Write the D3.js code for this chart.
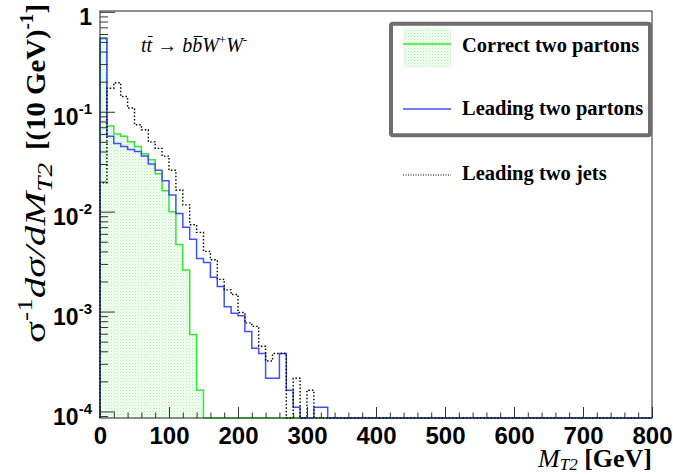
<!DOCTYPE html>
<html><head><meta charset="utf-8">
<script src="https://cdn.jsdelivr.net/npm/d3@7/dist/d3.min.js"></script>
<style>
html,body{margin:0;padding:0;background:#fff;}
svg{display:block;}
</style></head><body>
<svg id="chart" width="673" height="474"></svg>
<script>
// ---------------- data ----------------
const binWidth = 10;                 // GeV per bin
const xDomain = [0, 800];
const xMajorTicks = [0, 100, 200, 300, 400, 500, 600, 700, 800];
const xTickLabels = ["0", "100", "200", "300", "400", "500", "600", "700", "800"];
const yMajorTicks = [1, 1e-1, 1e-2, 1e-3, 1e-4];
const yTickBase = ["1", "10", "10", "10", "10"];
const yTickExp = ["", "-1", "-2", "-3", "-4"];
const seriesNames = ["Correct two partons", "Leading two partons", "Leading two jets"];

// normalised distributions, one value per 10 GeV bin starting at 0 GeV
const correctPartons = [0.55, 0.072, 0.060, 0.057, 0.050, 0.045, 0.038, 0.033, 0.024, 0.0162,
  0.0100, 0.0047, 0.0026, 0.00059, 0.000163];
const leadingPartons = [0.54, 0.057, 0.048, 0.045, 0.042, 0.040, 0.036, 0.030, 0.026, 0.0204,
  0.0147, 0.0096, 0.0070, 0.0053, 0.0034, 0.0031, 0.0022, 0.00178, 0.00112, 0.00096,
  0.00091, 0.00063, 0.00043, 0.00038, 0.000215, 0.000215, 0.00038, 0.000163, 0.00011, 0,
  0, 0.00011, 0.00011];
const leadingJets = [0.0195, 0.172, 0.195, 0.142, 0.109, 0.074, 0.066, 0.050, 0.043, 0.036,
  0.026, 0.0165, 0.0117, 0.0074, 0.0062, 0.0040, 0.0033, 0.0021, 0.00165, 0.00148,
  0.00098, 0.00077, 0.00071, 0.00045, 0.00032, 0.00038, 0.00038, 0, 0.000215, 0,
  0.000163];

// ---------------- layout ----------------
const svg = d3.select("#chart");
const plot = {left: 100, right: 652, top: 11, bottom: 418};
const yDomain = [8.6e-5, 1.02];

const x = d3.scaleLinear().domain(xDomain).range([plot.left, plot.right]);
const y = d3.scaleLog().domain(yDomain).range([plot.bottom, plot.top]).clamp(true);

const nBins = Math.round((xDomain[1] - xDomain[0]) / binWidth);
const fullBins = vals => d3.range(nBins).map(i => vals[i] ?? 0);
const yv = v => v > 0 ? y(v) : plot.bottom;
const stepPoints = vals => {
  const b = fullBins(vals);
  const pts = [[xDomain[0], 0]];
  b.forEach((v, i) => pts.push([xDomain[0] + i * binWidth, v]));
  pts.push([xDomain[1], 0]);
  return pts;
};

// pattern for the filled histogram
const defs = svg.append("defs");
const pat = defs.append("pattern").attr("id", "greenDots")
  .attr("width", 3).attr("height", 3).attr("patternUnits", "userSpaceOnUse");
pat.append("rect").attr("width", 3).attr("height", 3).attr("fill", "#f3fff3");
pat.append("rect").attr("width", 1).attr("height", 1).attr("fill", "#b2efb2");
pat.append("rect").attr("x", 1.5).attr("y", 1.5).attr("width", 1).attr("height", 1).attr("fill", "#c8f4c8");

const line = d3.line().x(d => x(d[0])).y(d => yv(d[1])).curve(d3.curveStepAfter);
const area = d3.area().x(d => x(d[0])).y0(plot.bottom).y1(d => yv(d[1])).curve(d3.curveStepAfter);

const colors = {green: "#33e833", blue: "#4050ff", black: "#000"};

svg.append("path").datum(stepPoints(correctPartons)).attr("d", area)
  .attr("fill", "url(#greenDots)").attr("stroke", "none");
svg.append("path").datum(stepPoints(correctPartons)).attr("d", line)
  .attr("fill", "none").attr("stroke", colors.green).attr("stroke-width", 1.5);
svg.append("path").datum(stepPoints(leadingPartons)).attr("d", line)
  .attr("fill", "none").attr("stroke", colors.blue).attr("stroke-width", 1.5);
svg.append("path").datum(stepPoints(leadingJets)).attr("d", line)
  .attr("fill", "none").attr("stroke", colors.black).attr("stroke-width", 1.4)
  .attr("stroke-dasharray", "1.5 2");

// ---------------- axes ----------------
const xMinor = d3.range(xDomain[0], xDomain[1] + 1, 20).filter(v => v % 100 !== 0);
const yMinor = [];
[1e-5, 1e-4, 1e-3, 1e-2, 1e-1].forEach(d => {
  for (let k = 2; k <= 9; k++) {
    const v = k * d;
    if (v >= yDomain[0] && v <= yDomain[1]) yMinor.push(v);
  }
});

const axisColor = "#333";
const gx = svg.append("g").attr("transform", `translate(0,${plot.bottom})`).attr("color", axisColor);
gx.append("g").call(d3.axisBottom(x).tickValues(xMinor).tickSizeInner(-5.5).tickSizeOuter(0).tickFormat(""))
  .call(g => g.select(".domain").remove());
gx.append("g").call(d3.axisBottom(x).tickValues(xMajorTicks).tickSizeInner(-11).tickSizeOuter(0)
    .tickPadding(9).tickFormat((d, i) => xTickLabels[i]))
  .call(g => g.select(".domain").remove())
  .call(g => g.selectAll("text").attr("fill", "#000")
    .attr("font-family", "'Liberation Sans', Arial, sans-serif")
    .attr("font-weight", "bold").attr("font-size", 24));

const gy = svg.append("g").attr("transform", `translate(${plot.left},0)`).attr("color", axisColor);
gy.append("g").call(d3.axisLeft(y).tickValues(yMinor).tickSizeInner(-8).tickSizeOuter(0).tickFormat(""))
  .call(g => g.select(".domain").remove());
gy.append("g").call(d3.axisLeft(y).tickValues(yMajorTicks).tickSizeInner(-15).tickSizeOuter(0)
    .tickPadding(8).tickFormat(""))
  .call(g => g.select(".domain").remove())
  .call(g => g.selectAll(".tick text").each(function (d, i) {
    const t = d3.select(this).attr("fill", "#000")
      .attr("font-family", "'Liberation Sans', Arial, sans-serif")
      .attr("font-weight", "bold").attr("font-size", 23).attr("dy", 13);
    t.append("tspan").text(yTickBase[i]);
    if (yTickExp[i]) t.append("tspan").attr("font-size", 15).attr("dy", -11).text(yTickExp[i]);
  }));

// frame
svg.append("rect").attr("x", plot.left).attr("y", plot.top)
  .attr("width", plot.right - plot.left).attr("height", plot.bottom - plot.top)
  .attr("fill", "none").attr("stroke", "#222").attr("stroke-width", 1);

// ---------------- axis titles ----------------
const serif = "'Liberation Serif', 'Times New Roman', serif";
const xt = svg.append("text").attr("x", 652).attr("y", 467).attr("text-anchor", "end")
  .attr("font-family", serif).attr("font-size", 26).attr("fill", "#000");
xt.append("tspan").attr("font-style", "italic").text("M");
xt.append("tspan").attr("font-style", "italic").attr("font-size", 17).attr("dy", 3).text("T2");
xt.append("tspan").attr("font-weight", "bold").attr("dy", -3).text(" [GeV]");

const yt1 = svg.append("text").attr("transform", "rotate(-90)")
  .attr("x", -343).attr("y", 45).attr("text-anchor", "start")
  .attr("font-family", serif).attr("font-size", 30).attr("fill", "#000");
yt1.append("tspan").text("σ");
yt1.append("tspan").attr("font-size", 20).attr("dy", -13).text("-1");
yt1.append("tspan").attr("font-style", "italic").attr("dy", 13).text("dσ/dM");
yt1.append("tspan").attr("font-style", "italic").attr("font-size", 20).attr("dy", 7).text("T2");
yt1.attr("textLength", 180).attr("lengthAdjust", "spacingAndGlyphs");

const yt2 = svg.append("text").attr("transform", "rotate(-90)")
  .attr("x", -150).attr("y", 45).attr("text-anchor", "start")
  .attr("font-family", serif).attr("font-weight", "bold").attr("font-size", 27).attr("fill", "#000");
yt2.append("tspan").text("[(10 GeV)");
yt2.append("tspan").attr("font-size", 18).attr("dy", -12).text("-1");
yt2.append("tspan").attr("dy", 12).text("]");
yt2.attr("textLength", 146).attr("lengthAdjust", "spacingAndGlyphs");

// ---------------- process label ----------------
const title = svg.append("text").attr("x", 141).attr("y", 52)
  .attr("font-family", serif).attr("font-size", 20).attr("fill", "#000");
title.append("tspan").attr("font-style", "italic").text("tt");
title.append("tspan").text(" \u2192 ");
title.append("tspan").attr("font-style", "italic").text("bbW");
title.append("tspan").attr("font-size", 13).attr("dy", -8).text("+");
title.append("tspan").attr("font-style", "italic").attr("dy", 8).text("W");
title.append("tspan").attr("font-size", 13).attr("dy", -8).text("-");
// overbars on the anti-quarks (second t = char 1, second b = char 6)
[1, 6].forEach(ci => {
  const e = title.node().getExtentOfChar(ci);
  svg.append("line").attr("x1", e.x + 1.5).attr("x2", e.x + e.width + 0.5)
    .attr("y1", e.y + 2.5).attr("y2", e.y + 2.5)
    .attr("stroke", "#000").attr("stroke-width", 1);
});

// ---------------- legend ----------------
svg.append("rect").attr("x", 391).attr("y", 23.7).attr("width", 259).attr("height", 111.6)
  .attr("rx", 2).attr("fill", "#fff").attr("stroke", "#6e6e6e").attr("stroke-width", 4);
svg.append("rect").attr("x", 403).attr("y", 28).attr("width", 48).attr("height", 39)
  .attr("fill", "url(#greenDots)");
const legendRows = [
  {name: seriesNames[0], y: 44, base: 52, color: colors.green, dash: null, w: 1.5},
  {name: seriesNames[1], y: 109, base: 115, color: colors.blue, dash: null, w: 1.5},
  {name: seriesNames[2], y: 175, base: 180, color: colors.black, dash: "1 1.5", w: 1}
];
legendRows.forEach(r => {
  svg.append("line").attr("x1", 403).attr("x2", 451).attr("y1", r.y).attr("y2", r.y)
    .attr("stroke", r.color).attr("stroke-width", r.w).attr("stroke-dasharray", r.dash);
  svg.append("text").attr("x", 462).attr("y", r.base)
    .attr("font-family", serif).attr("font-weight", "bold").attr("font-size", 20.5)
    .attr("fill", "#000").text(r.name);
});
</script>
</body></html>
